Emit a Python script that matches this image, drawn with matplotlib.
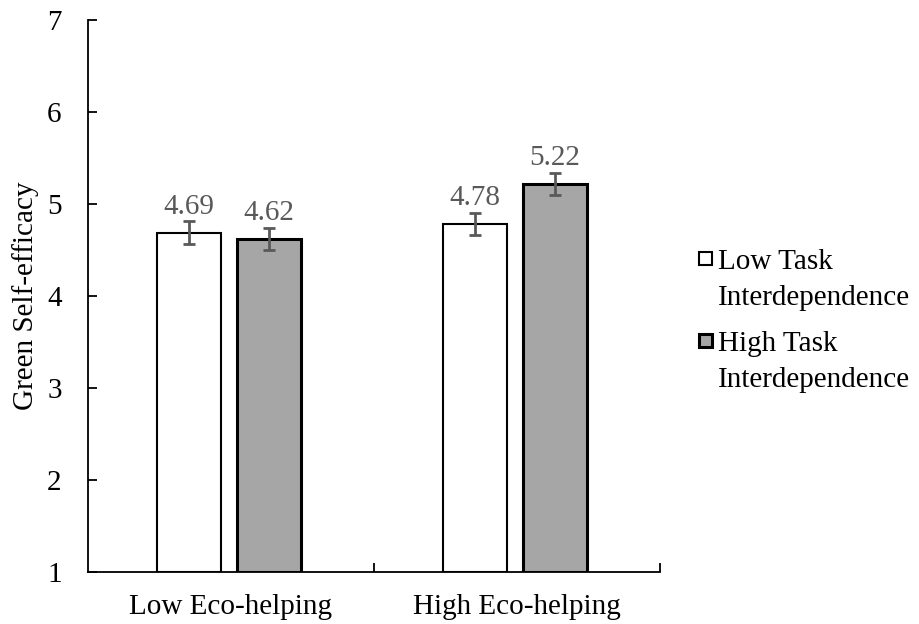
import matplotlib
matplotlib.use("Agg")
import matplotlib.pyplot as plt
import numpy as np
from matplotlib.patches import Rectangle

plt.rcParams['font.family'] = ['Liberation Serif', 'DejaVu Serif']

categories = ["Low Eco-helping", "High Eco-helping"]
series_names = ["Low Task\nInterdependence", "High Task\nInterdependence"]
low_task = [4.69, 4.78]
high_task = [4.62, 5.22]
low_task_err = [0.12, 0.12]
high_task_err = [0.12, 0.12]
y_ticks = [1, 2, 3, 4, 5, 6, 7]

FS = 21
fig = plt.figure(figsize=(9.19, 6.24), dpi=100)
ax = fig.add_axes([0.0958, 0.0833, 0.6222, 0.8847])

x = np.arange(len(categories)) - 0.007
w = 0.224
off = 0.14
fills = ["white", "#a6a6a6"]
edge_w = [1.5, 2.2]
err_color = "#595959"

for vals, errs, dx, fc, lw in [(low_task, low_task_err, -off, fills[0], edge_w[0]),
                               (high_task, high_task_err, off, fills[1], edge_w[1])]:
    pos = x + dx
    ax.bar(pos, np.array(vals) - 1, bottom=1, width=w, color=fc,
           edgecolor="black", linewidth=lw, zorder=2)
    ax.errorbar(pos, vals, yerr=errs, fmt="none", ecolor=err_color,
                elinewidth=2, capsize=4.5, capthick=2, zorder=3)
    for p, v, e in zip(pos, vals, errs):
        ax.text(p, v + e + 0.085, f"{v:.2f}", ha="center", va="baseline",
                fontsize=FS, color="#595959")

ax.set_xlim(-0.5, 1.5)
ax.set_ylim(1, 7)
ax.set_yticks(y_ticks)
ax.set_yticklabels([str(t) for t in y_ticks], fontsize=FS)
ax.set_ylabel("Green Self-efficacy", fontsize=FS, labelpad=6)

ax.set_xticks(np.arange(len(categories)))
ax.set_xticklabels(categories, fontsize=FS)
ax.tick_params(axis="x", which="major", length=0, pad=16)
ax.set_xticks([0.5, 1.5], minor=True)
ax.tick_params(axis="x", which="minor", length=6.5, width=1.3, direction="in")
ax.tick_params(axis="y", length=6.5, width=1.3, direction="in", pad=19)

for s in ["top", "right"]:
    ax.spines[s].set_visible(False)
for s in ["left", "bottom"]:
    ax.spines[s].set_linewidth(1.3)

# legend: square swatch beside the first line of each two-line label
W, H = fig.get_size_inches() * fig.dpi
entry_tops = [251, 333]
for (top, name, fc, lw) in zip(entry_tops, series_names, fills, edge_w):
    fig.patches.append(Rectangle((699 / W, 1 - (top + 14) / H), 13 / W, 13 / H,
                                 transform=fig.transFigure, facecolor=fc,
                                 edgecolor="black", linewidth=lw))
    fig.text(718 / W, 1 - (top - 2) / H, name, ha="left", va="top",
             fontsize=FS, linespacing=1.5)

fig.savefig("out.png", dpi=100)
